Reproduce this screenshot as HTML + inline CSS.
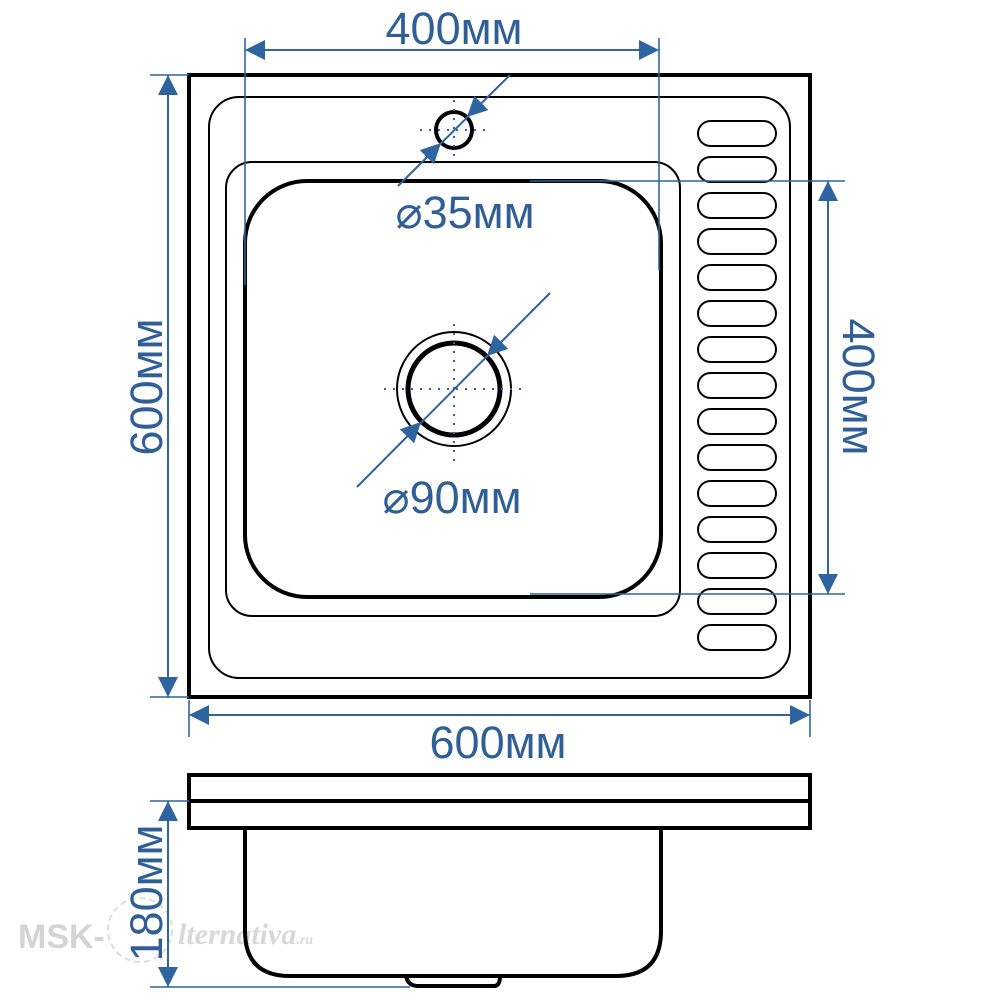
<!DOCTYPE html>
<html><head><meta charset="utf-8"><style>
html,body{margin:0;padding:0;background:#fff}
svg{display:block}
text{font-family:"Liberation Sans",sans-serif;fill:#2f5f96}
</style></head><body>
<svg width="1000" height="1000" viewBox="0 0 1000 1000" xmlns="http://www.w3.org/2000/svg">
<defs>
<marker id="a" viewBox="0 0 10 10" refX="10" refY="5" markerWidth="28" markerHeight="20" markerUnits="userSpaceOnUse" orient="auto">
<path d="M0,0 L10,5 L0,10 z" fill="#2e64a0"/>
</marker>
</defs>
<!-- watermark -->
<text x="18" y="948" font-size="34" font-weight="bold" style="fill:#d4d4d4">MSK-</text>
<circle cx="140" cy="930" r="32" fill="none" stroke="#ddd" stroke-width="2" stroke-dasharray="6 4"/>
<text x="178" y="944" font-size="30" font-style="italic" font-weight="bold" style="fill:#d8d8d8;font-family:'Liberation Serif',serif">lternativa<tspan font-size="14">.ru</tspan></text>

<g fill="none" stroke="#000">
<rect x="189" y="75" width="621" height="622" stroke-width="4"/>
<rect x="209" y="97" width="581" height="581" rx="30" stroke-width="2"/>
<rect x="226" y="162" width="454" height="454" rx="26" stroke-width="2"/>
<rect x="245" y="181" width="416" height="416" rx="62" stroke-width="4"/>
<circle cx="454" cy="389" r="57" stroke-width="2"/>
<circle cx="454" cy="389" r="46" stroke-width="5"/>
<circle cx="454" cy="130" r="18" stroke-width="4"/>
<g stroke-width="2">
<rect x="698" y="121" width="78" height="25" rx="12.5"/>
<rect x="698" y="157" width="78" height="25" rx="12.5"/>
<rect x="698" y="193" width="78" height="25" rx="12.5"/>
<rect x="698" y="229" width="78" height="25" rx="12.5"/>
<rect x="698" y="265" width="78" height="25" rx="12.5"/>
<rect x="698" y="301" width="78" height="25" rx="12.5"/>
<rect x="698" y="337" width="78" height="25" rx="12.5"/>
<rect x="698" y="373" width="78" height="25" rx="12.5"/>
<rect x="698" y="409" width="78" height="25" rx="12.5"/>
<rect x="698" y="445" width="78" height="25" rx="12.5"/>
<rect x="698" y="481" width="78" height="25" rx="12.5"/>
<rect x="698" y="517" width="78" height="25" rx="12.5"/>
<rect x="698" y="553" width="78" height="25" rx="12.5"/>
<rect x="698" y="589" width="78" height="25" rx="12.5"/>
<rect x="698" y="625" width="78" height="25" rx="12.5"/>
</g>
<!-- side view -->
<rect x="189" y="775" width="621" height="53" stroke-width="4"/>
<line x1="189" y1="801" x2="810" y2="801" stroke-width="4"/>
<path d="M245,828 V931 Q245,976 290,976 H616 Q661,976 661,931 V828" stroke-width="4"/>
<path d="M406,976 Q408,986 418,986 H494 Q500,986 500,976" stroke-width="4"/>
</g>

<!-- centerlines dotted -->
<g stroke="#2e64a0" stroke-width="2" stroke-dasharray="2 7" fill="none">
<line x1="384" y1="389" x2="524" y2="389"/>
<line x1="454" y1="324" x2="454" y2="462"/>
<line x1="420" y1="130" x2="488" y2="130"/>
<line x1="454" y1="100" x2="454" y2="162"/>
</g>

<g stroke="#2e64a0" stroke-width="1.6" fill="none">
<!-- top 400 -->
<line x1="245" y1="38" x2="245" y2="285"/>
<line x1="659" y1="38" x2="659" y2="270"/>
<line x1="252" y1="50" x2="652" y2="50" stroke-width="2"/>
<line x1="330" y1="50" x2="245" y2="50" marker-end="url(#a)"/>
<line x1="570" y1="50" x2="659" y2="50" marker-end="url(#a)"/>
<!-- left 600 -->
<line x1="150" y1="75" x2="189" y2="75"/>
<line x1="150" y1="697" x2="189" y2="697"/>
<line x1="168" y1="80" x2="168" y2="690" stroke-width="2"/>
<line x1="168" y1="160" x2="168" y2="75" marker-end="url(#a)"/>
<line x1="168" y1="610" x2="168" y2="697" marker-end="url(#a)"/>
<!-- right 400 -->
<line x1="530" y1="181" x2="845" y2="181"/>
<line x1="530" y1="594" x2="845" y2="594"/>
<line x1="828" y1="186" x2="828" y2="590" stroke-width="2"/>
<line x1="828" y1="260" x2="828" y2="181" marker-end="url(#a)"/>
<line x1="828" y1="510" x2="828" y2="594" marker-end="url(#a)"/>
<!-- bottom 600 -->
<line x1="189" y1="700" x2="189" y2="737"/>
<line x1="810" y1="700" x2="810" y2="737"/>
<line x1="194" y1="715" x2="805" y2="715" stroke-width="2"/>
<line x1="270" y1="715" x2="189" y2="715" marker-end="url(#a)"/>
<line x1="730" y1="715" x2="810" y2="715" marker-end="url(#a)"/>
<!-- 180 -->
<line x1="150" y1="801" x2="189" y2="801"/>
<line x1="150" y1="987" x2="410" y2="987"/>
<line x1="168" y1="806" x2="168" y2="982" stroke-width="2"/>
<line x1="168" y1="870" x2="168" y2="801" marker-end="url(#a)"/>
<line x1="168" y1="930" x2="168" y2="987" marker-end="url(#a)"/>
<!-- 35 diag -->
<line x1="398" y1="186" x2="510" y2="75" stroke-width="2"/>
<line x1="510" y1="75" x2="467" y2="117" marker-end="url(#a)"/>
<line x1="398" y1="186" x2="441" y2="143" marker-end="url(#a)"/>
<!-- 90 diag -->
<line x1="357" y1="487" x2="550" y2="293" stroke-width="2"/>
<line x1="550" y1="293" x2="487" y2="356" marker-end="url(#a)"/>
<line x1="357" y1="487" x2="421" y2="422" marker-end="url(#a)"/>
</g>

<text x="454" y="44" font-size="45" text-anchor="middle">400мм</text>
<text x="498" y="758" font-size="45" text-anchor="middle">600мм</text>
<text x="465" y="228" font-size="45" text-anchor="middle">⌀35мм</text>
<text x="452" y="513" font-size="45" text-anchor="middle">⌀90мм</text>
<text transform="translate(162,387) rotate(-90)" font-size="45" text-anchor="middle">600мм</text>
<text transform="translate(843,387) rotate(90)" font-size="45" text-anchor="middle">400мм</text>
<text transform="translate(162,893) rotate(-90)" font-size="45" text-anchor="middle">180мм</text>
</svg>
</body></html>
